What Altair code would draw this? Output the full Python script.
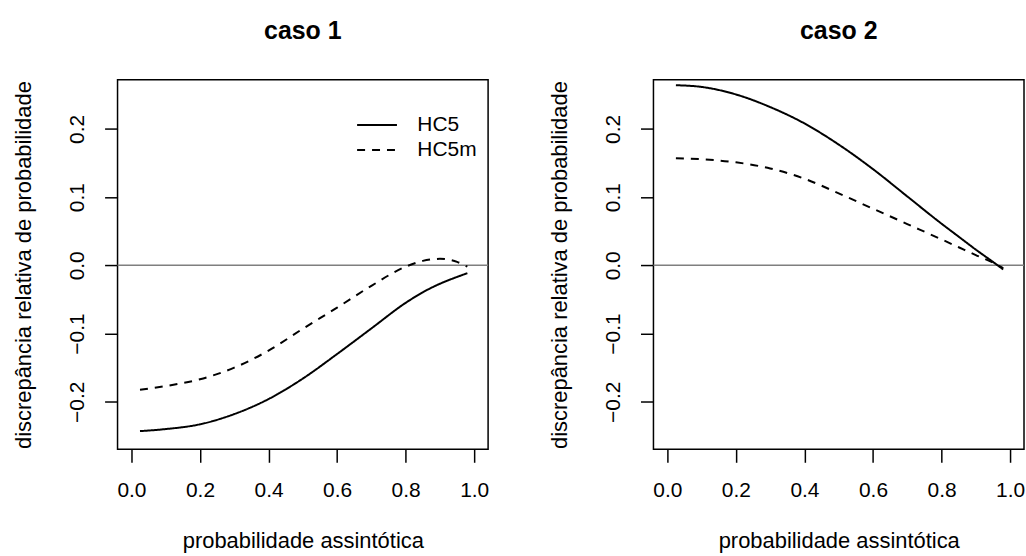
import altair as alt
import pandas as pd

# ---- data ----
x_vals = [0.025, 0.1, 0.2, 0.3, 0.4, 0.5, 0.6, 0.7, 0.8, 0.85, 0.9, 0.95, 0.98]

caso1_hc5 = [-0.243, -0.240, -0.233, -0.218, -0.196, -0.166, -0.130, -0.0925, -0.055, -0.0395, -0.027, -0.017, -0.0115]
caso1_hc5m = [-0.1825, -0.177, -0.167, -0.150, -0.125, -0.093, -0.062, -0.030, -0.002, 0.0065, 0.0095, 0.005, -0.002]

caso2_hc5 = [0.264, 0.2615, 0.2505, 0.232, 0.208, 0.177, 0.141, 0.101, 0.061, 0.042, 0.023, 0.005, -0.006]
caso2_hc5m = [0.157, 0.1555, 0.151, 0.142, 0.127, 0.1055, 0.083, 0.0605, 0.038, 0.0265, 0.015, 0.004, -0.004]

series_names = ["HC5", "HC5m"]
x_ticks = [0.0, 0.2, 0.4, 0.6, 0.8, 1.0]
y_ticks = [-0.2, -0.1, 0.0, 0.1, 0.2]
panel_titles = ["caso 1", "caso 2"]
x_title = "probabilidade assintótica"
y_title = "discrepância relativa de probabilidade"

FONT = "Liberation Sans"
W, H = 372, 371


def make_df(a, b):
    rows = []
    for name, ys in zip(series_names, [a, b]):
        for i, (xv, yv) in enumerate(zip(x_vals, ys)):
            rows.append({"x": xv, "y": yv, "serie": name, "i": i})
    return pd.DataFrame(rows)


def panel(df, title, show_legend):
    xenc = alt.X(
        "x:Q",
        scale=alt.Scale(domain=[-0.0405, 1.0405], nice=False, zero=False),
        axis=alt.Axis(values=x_ticks, format=".1f", title=x_title, grid=False,
                      domain=False, tickSize=13, tickColor="black", tickWidth=1.5,
                      labelFontSize=21, titleFontSize=22, titleFontWeight="normal",
                      labelPadding=17, titlePadding=31, labelColor="black",
                      titleColor="black", labelFont=FONT, titleFont=FONT),
    )
    yenc = alt.Y(
        "y:Q",
        scale=alt.Scale(domain=[-0.2697, 0.272], nice=False, zero=False),
        axis=alt.Axis(values=y_ticks, format=".1f", title=y_title, grid=False,
                      domain=False, tickSize=13, tickColor="black", tickWidth=1.5,
                      labelFontSize=21, titleFontSize=22, titleFontWeight="normal",
                      labelAngle=270, labelAlign="center", labelBaseline="bottom",
                      labelPadding=17, titlePadding=31, labelColor="black",
                      titleColor="black", labelFont=FONT, titleFont=FONT),
    )
    if show_legend:
        legend = alt.Legend(orient="none", legendX=250, legendY=35, title=None,
                            symbolType="M-4,0H4", symbolSize=100,
                            symbolStrokeColor="black", symbolStrokeWidth=2,
                            labelFontSize=21, labelFont=FONT, labelColor="black",
                            labelOffset=30, rowPadding=3, padding=0, offset=0)
    else:
        legend = None
    dash = alt.StrokeDash("serie:N",
                          scale=alt.Scale(domain=series_names, range=[[1, 0], [8, 7]]),
                          legend=legend)
    lines = alt.Chart(df).mark_line(color="black", strokeWidth=2, interpolate="monotone").encode(
        x=xenc, y=yenc, strokeDash=dash, order="i:Q", detail="serie:N"
    )
    zero = alt.Chart(pd.DataFrame({"y": [0.0]})).mark_rule(
        color="#7f7f7f", strokeWidth=1.5).encode(y="y:Q")
    return alt.layer(zero, lines).properties(
        width=W, height=H,
        title=alt.TitleParams(title, fontSize=25, fontWeight="bold", font=FONT,
                              anchor="middle", offset=36, color="black"),
    )


p1 = panel(make_df(caso1_hc5, caso1_hc5m), panel_titles[0], True)
p2 = panel(make_df(caso2_hc5, caso2_hc5m), panel_titles[1], False)

chart = alt.hconcat(p1, p2, spacing=166, bounds="flush").resolve_scale(
    strokeDash="independent"
).resolve_legend(strokeDash="independent").properties(
    padding={"left": 12, "top": 17, "right": 0, "bottom": 0}
).configure(
    background="white", font=FONT,
    view=alt.ViewConfig(stroke="black", strokeWidth=1.5, fill=None),
)

chart.save("out.html", embed_options={"renderer": "svg", "actions": False})
